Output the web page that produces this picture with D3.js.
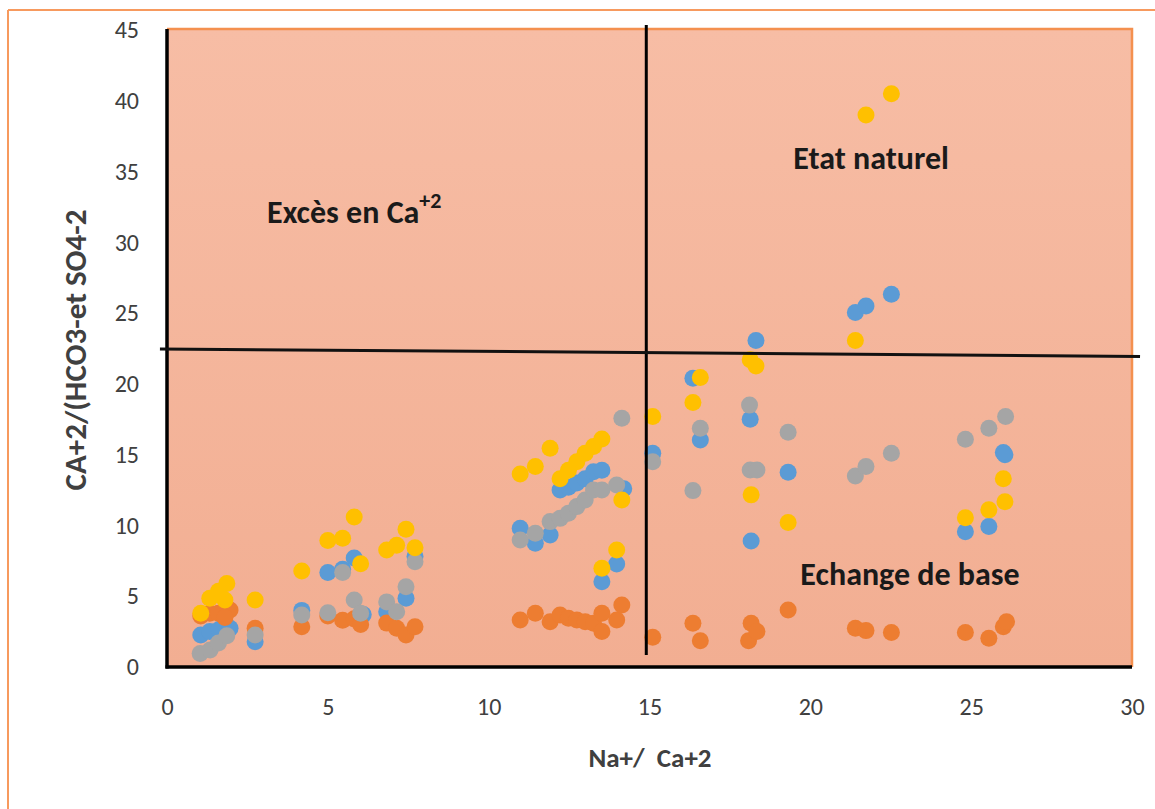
<!DOCTYPE html>
<html>
<head>
<meta charset="utf-8">
<script src="https://cdn.jsdelivr.net/npm/d3@7"></script>
<style>
  html, body { margin: 0; padding: 0; background: #fff; }
  svg { display: block; }
</style>
</head>
<body>
<script>
// ---- data (x = Na+/Ca+2, y = Ca+2/(HCO3- et SO4-2)) ----
const seriesBlue = [[1.05,2.26],[1.33,2.5],[1.62,2.65],[1.96,2.73],[2.74,1.79],[4.19,4.0],[5.0,6.67],[5.46,6.9],[5.82,7.7],[6.1,3.7],[6.83,3.9],[7.43,4.85],[7.71,7.8],[10.98,9.8],[11.45,8.74],[11.91,9.33],[12.22,12.5],[12.48,12.7],[12.74,13.0],[13.0,13.3],[13.26,13.8],[13.52,13.9],[13.52,6.03],[13.98,7.28],[14.2,12.6],[15.1,15.1],[16.35,20.4],[16.58,16.04],[18.13,17.5],[18.16,8.9],[18.31,23.06],[19.31,13.76],[21.4,25.04],[21.73,25.5],[22.52,26.34],[24.82,9.56],[25.55,9.92],[26.0,15.15],[26.05,15.0]];
const seriesOrange = [[1.05,3.6],[1.33,3.8],[1.6,3.8],[1.96,4.03],[1.8,3.5],[2.74,2.73],[4.19,2.85],[5.0,3.6],[5.46,3.3],[5.82,3.4],[6.02,3.0],[6.83,3.1],[7.14,2.73],[7.43,2.26],[7.71,2.85],[10.98,3.32],[11.45,3.8],[11.91,3.2],[12.22,3.67],[12.48,3.44],[12.74,3.32],[13.0,3.2],[13.26,3.09],[13.52,3.8],[13.52,2.5],[13.98,3.32],[14.14,4.38],[15.1,2.1],[16.35,3.09],[16.58,1.86],[18.08,1.86],[18.16,3.09],[18.34,2.5],[19.31,4.03],[21.4,2.73],[21.73,2.57],[22.52,2.43],[24.82,2.43],[25.55,2.03],[26.0,2.85],[26.1,3.2]];
const seriesGray = [[1.03,0.95],[1.34,1.2],[1.6,1.7],[1.86,2.2],[2.74,2.26],[4.19,3.67],[5.0,3.84],[5.46,6.67],[5.82,4.73],[6.02,3.8],[6.83,4.6],[7.14,3.9],[7.43,5.67],[7.71,7.44],[10.98,8.97],[11.45,9.45],[11.91,10.27],[12.22,10.5],[12.48,10.86],[12.74,11.33],[13.0,11.8],[13.26,12.5],[13.52,12.5],[13.98,12.86],[14.14,17.58],[15.1,14.5],[16.35,12.46],[16.58,16.87],[18.11,18.5],[18.13,13.92],[18.34,13.92],[19.31,16.58],[21.4,13.5],[21.73,14.16],[22.52,15.1],[24.82,16.09],[25.55,16.87],[26.07,17.7]];
const seriesYellow = [[1.05,3.8],[1.33,4.85],[1.6,5.35],[1.86,5.9],[1.8,4.73],[2.74,4.73],[4.19,6.78],[5.0,8.93],[5.46,9.1],[5.82,10.6],[6.02,7.3],[6.83,8.27],[7.14,8.6],[7.43,9.73],[7.71,8.43],[10.98,13.64],[11.45,14.16],[11.91,15.45],[12.22,13.3],[12.48,13.9],[12.74,14.5],[13.0,15.1],[13.26,15.57],[13.52,16.1],[13.52,6.97],[13.98,8.27],[14.14,11.8],[15.1,17.7],[16.35,18.68],[16.58,20.45],[18.13,21.7],[18.31,21.27],[18.16,12.16],[19.31,10.2],[21.4,23.06],[21.73,39.0],[22.52,40.5],[24.82,10.55],[25.55,11.1],[26.0,13.3],[26.05,11.68]];
const seriesColors = ["#5B9BD5", "#ED7D31", "#A5A5A5", "#FFC000"];
const xTicks = [0, 5, 10, 15, 20, 25, 30];
const yTicks = [0, 5, 10, 15, 20, 25, 30, 35, 40, 45];
const xTitle = "Na+/  Ca+2";
const yTitle = "CA+2/(HCO3-et SO4-2";
const dividerVertical = [[14.9, 0.85], [14.9, 45.35]];
const dividerHorizontal = [[-0.22, 22.47], [30.25, 21.94]];
const zoneLabels = [
  { text: "Excès en Ca", sup: "+2", x: 3.11, y: 31.35 },
  { text: "Etat naturel", sup: "", x: 19.47, y: 35.15 },
  { text: "Echange de base", sup: "", x: 19.69, y: 5.8 }
];

// ---- layout ----
const W = 1155, H = 809;
const plot = { left: 167, right: 1132, top: 30, bottom: 667 };

const svg = d3.select("body").append("svg").attr("width", W).attr("height", H);

const defs = svg.append("defs");
const grad = defs.append("linearGradient").attr("id", "bg").attr("x1", 0).attr("y1", 0).attr("x2", 0).attr("y2", 1);
grad.append("stop").attr("offset", "0%").attr("stop-color", "#F7BDA5");
grad.append("stop").attr("offset", "100%").attr("stop-color", "#F2AE92");

// outer chart border (orange, clipped by the window on right/bottom)
svg.append("line").attr("x1", 8).attr("y1", 10).attr("x2", W + 5).attr("y2", 10)
  .attr("stroke", "#F79A5E").attr("stroke-width", 2);
svg.append("line").attr("x1", 8).attr("y1", 10).attr("x2", 8).attr("y2", H + 5)
  .attr("stroke", "#F79A5E").attr("stroke-width", 2);

const x = d3.scaleLinear().domain([0, 30]).range([plot.left, plot.right]);
const y = d3.scaleLinear().domain([0, 45]).range([plot.bottom, plot.top]);

// plot area
svg.append("rect").attr("x", plot.left).attr("y", plot.top - 1)
  .attr("width", plot.right - plot.left).attr("height", plot.bottom - plot.top + 1)
  .attr("fill", "url(#bg)");
svg.append("path")
  .attr("d", `M${plot.left},${plot.top - 1}H${plot.right}V${plot.bottom}`)
  .attr("fill", "none").attr("stroke", "#F4904F").attr("stroke-width", 2.5);

const font = "Carlito, Calibri, Lato, 'Open Sans', sans-serif";

// axes
const xAxis = svg.append("g").attr("transform", `translate(0,${plot.bottom})`)
  .call(d3.axisBottom(x).tickValues(xTicks).tickSize(0).tickPadding(31));
const yAxis = svg.append("g").attr("transform", `translate(${plot.left},0)`)
  .call(d3.axisLeft(y).tickValues(yTicks).tickSize(0).tickPadding(28));
[xAxis, yAxis].forEach(g => {
  g.select(".domain").attr("stroke", "#000").attr("stroke-width", 3.5);
  g.selectAll("text").attr("font-family", font).attr("font-size", 24).attr("fill", "#404040");
});
xAxis.select(".domain").attr("d", `M${plot.left - 1.5},0H${plot.right}`);
yAxis.select(".domain").attr("d", `M0,${plot.top - 1}V${plot.bottom + 1.5}`);

// points
const allSeries = [seriesBlue, seriesOrange, seriesGray, seriesYellow];
allSeries.forEach((s, i) => {
  svg.append("g").selectAll("circle").data(s).join("circle")
    .attr("cx", d => x(d[0])).attr("cy", d => y(d[1])).attr("r", 8.5)
    .attr("fill", seriesColors[i]);
});

// divider lines
const line = d3.line().x(d => x(d[0])).y(d => y(d[1]));
svg.append("path").attr("d", line(dividerVertical)).attr("stroke", "#000").attr("stroke-width", 3).attr("fill", "none");
svg.append("path").attr("d", line(dividerHorizontal)).attr("stroke", "#111").attr("stroke-width", 3).attr("fill", "none");

// zone labels
zoneLabels.forEach(l => {
  const t = svg.append("text").attr("x", x(l.x)).attr("y", y(l.y))
    .attr("font-family", font).attr("font-size", 32).attr("font-weight", "bold").attr("fill", "#1a1a1a")
    .text(l.text);
  if (l.sup) t.append("tspan").attr("dy", -15).attr("font-size", 22).text(l.sup);
});

// axis titles
svg.append("text").attr("x", 650).attr("y", 767).attr("text-anchor", "middle")
  .style("white-space", "pre")
  .attr("font-family", font).attr("font-size", 27).attr("font-weight", "bold").attr("fill", "#404040")
  .text(xTitle);
svg.append("text").attr("transform", "translate(86,350) rotate(-90)").attr("text-anchor", "middle")
  .attr("font-family", font).attr("font-size", 31).attr("font-weight", "bold").attr("fill", "#404040")
  .text(yTitle);
</script>
</body>
</html>
